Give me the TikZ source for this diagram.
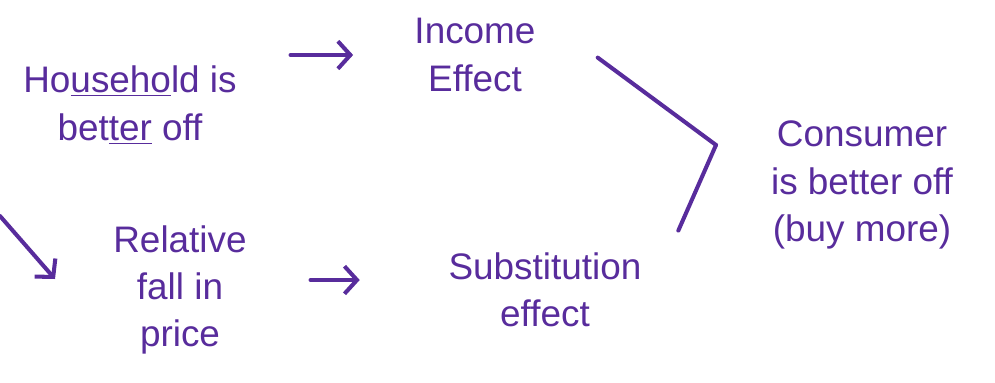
\documentclass[tikz,border=0pt]{standalone}
\usepackage{fontspec}
\setmainfont{Liberation Sans}
\usetikzlibrary{positioning,arrows.meta}

\definecolor{ink}{RGB}{88,44,156}

\tikzset{
  note/.style={text=ink, align=center, font=\fontsize{21}{27}\selectfont, inner sep=2pt},
  stroke/.style={draw=ink, line width=2.3pt, line cap=round},
  arr/.style={stroke, -{Straight Barb[length=2.5mm,width=5.5mm]}},
}

\begin{document}
\begin{tikzpicture}[on grid]
    \useasboundingbox (0,0) rectangle (19.9,7.64);
    \node[note] (house) at (2.6,5.54) {Ho\underline{useho}ld is\\bet\underline{ter} off};
    \node[note] [above right=1.0cm and 6.9cm of house] (income) {Income\\Effect};
    \node[note] [below right=3.7cm and 1.0cm of house] (relative) {Relative\\fall in\\price};
    \node[note] [right=7.3cm of relative] (subst) {Substitution\\effect};
    \node[note] [below right=2.6cm and 7.74cm of income] (consumer) {Consumer\\is better off\\(buy more)};
    \coordinate [above left=0.8cm and 2.92cm of consumer] (join);
    \coordinate (start) at (0,3.32);
    \coordinate (tip) at (1.1,2.06);

    % arrows into the chain
    \draw[arr, shorten <=1.0cm, shorten >=1.15cm] (house.east |- income.west) -- (income.west);
    \draw[arr] (start) -- (tip);
    \draw[arr, shorten <=1.2cm, shorten >=1.7cm] ([yshift=0.2cm]relative.east |- subst.west) -- ([yshift=0.2cm]subst.west);
    % both effects meet
    \draw[stroke, shorten <=1.45cm] (income.north east) -- (join);
    \draw[stroke, shorten <=0.4cm] ([xshift=0.5cm]subst.north east) -- (join);
\end{tikzpicture}
\end{document}
